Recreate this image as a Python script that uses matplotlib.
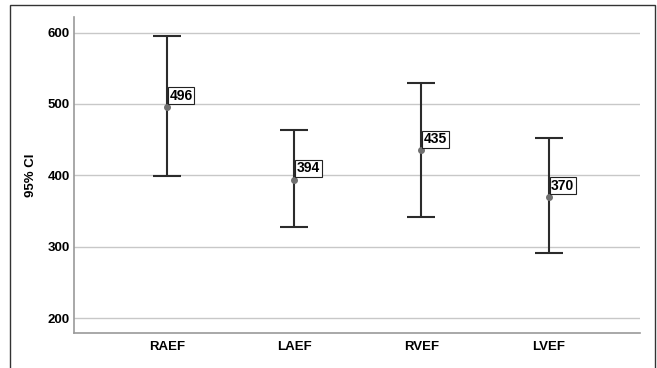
import matplotlib.pyplot as plt
from matplotlib.patches import Rectangle

# data
categories = ['RAEF', 'LAEF', 'RVEF', 'LVEF']
means = [496, 394, 435, 370]
ci_low = [399, 327, 342, 291]
ci_high = [595, 463, 530, 452]
yticks = [200, 300, 400, 500, 600]

plt.rcParams['font.family'] = ['Liberation Sans', 'DejaVu Sans']

fig = plt.figure(figsize=(6.57, 3.68), dpi=100)
ax = fig.add_axes([0.1126, 0.095, 0.862, 0.859])

x = list(range(len(categories)))
err_lo = [m - l for m, l in zip(means, ci_low)]
err_hi = [h - m for m, h in zip(means, ci_high)]

# error bars (95% CI)
ax.errorbar(x, means, yerr=[err_lo, err_hi], fmt='none', ecolor='#2b2b2b',
            elinewidth=1.5, capsize=9.8, capthick=1.5, zorder=3)
# mean points
ax.plot(x, means, 'o', color='#707070', markersize=4, zorder=4)

# value labels
for xi, m in zip(x, means):
    ax.annotate(str(m), (xi, m), xytext=(1.8, 3), textcoords='offset points',
                ha='left', va='bottom', fontsize=10, fontweight='bold',
                bbox=dict(boxstyle='square,pad=0.12', fc='white', ec='#222222', lw=0.8),
                zorder=5)

ax.set_xlim(-0.73, 3.72)
ax.set_ylim(179, 622)
ax.set_xticks(x)
ax.set_xticklabels(categories, fontsize=9.5, fontweight='bold')
ax.set_yticks(yticks)
ax.set_yticklabels([str(t) for t in yticks], fontsize=9.5, fontweight='bold')
ax.tick_params(axis='y', length=0, pad=3)
ax.tick_params(axis='x', length=0, pad=6)
ax.yaxis.grid(True, color='#c8c8c8', lw=1.0)
ax.set_axisbelow(True)
ax.set_ylabel('95% CI', fontsize=9.5, fontweight='bold')
ax.yaxis.set_label_coords(-0.0654, 0.5)

for s in ['top', 'right']:
    ax.spines[s].set_visible(False)
for s in ['left', 'bottom']:
    ax.spines[s].set_color('#9a9a9a')
    ax.spines[s].set_linewidth(1.2)

# outer frame
fig.patches.append(Rectangle((10 / 657, -0.02), 645 / 657, 1 - 5 / 368 + 0.02,
                             transform=fig.transFigure, fill=False,
                             ec='#333333', lw=1.0))

fig.savefig('out.png', dpi=100)
